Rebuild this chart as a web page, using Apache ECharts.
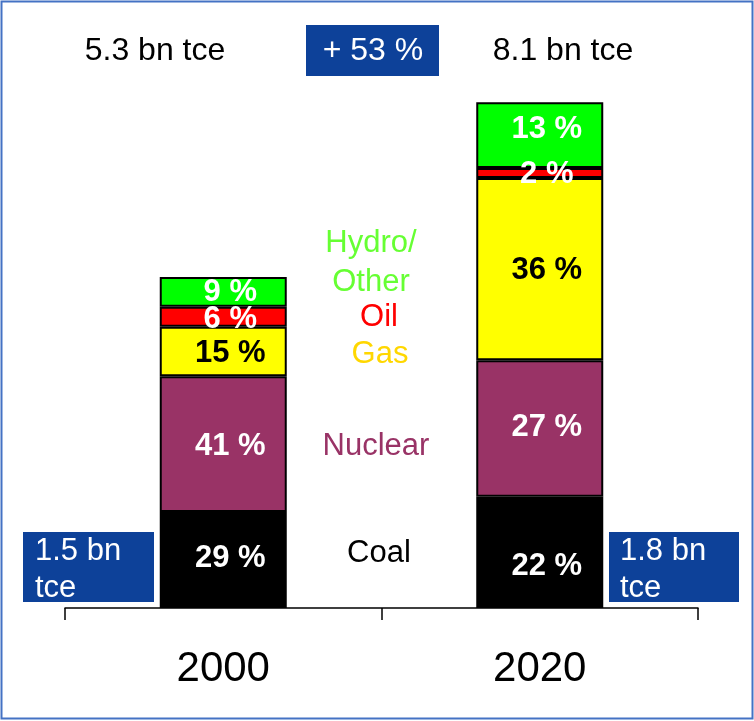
<!DOCTYPE html>
<html>
<head>
<meta charset="utf-8">
<script src="https://cdn.jsdelivr.net/npm/echarts@6/dist/echarts.min.js"></script>
<style>
html,body{margin:0;padding:0;background:#fff;}
#chart{width:754px;height:721px;}
</style>
</head>
<body>
<div id="chart"></div>
<script>
// ---- data ----
var years = ['2000', '2020'];
var totals = [5.3, 8.1];            // bn tce
var coalShare = [29, 22];           // %
var nuclearShare = [41, 27];
var gasShare = [15, 36];
var oilShare = [6, 2];
var hydroShare = [9, 13];
var growthLabel = '+ 53 %';
var coalAbs = ['1.5 bn\ntce', '1.8 bn\ntce'];

var FONT = '"Liberation Sans", Arial, sans-serif';

function toValues(shares) {
  return shares.map(function (s, i) { return totals[i] * s / 100; });
}

var seriesDefs = [
  { name: 'Coal', shares: coalShare, color: '#000000', text: '#ffffff', offsets: [[7, -2], [7, 14]] },
  { name: 'Nuclear', shares: nuclearShare, color: '#993366', text: '#ffffff', offsets: [[7, 2], [7, -1]] },
  { name: 'Gas', shares: gasShare, color: '#FFFF00', text: '#000000', offsets: [[7, 2], [7, 1]] },
  { name: 'Oil', shares: oilShare, color: '#FF0000', text: '#ffffff', offsets: [[7, 3], [7, 1]] },
  { name: 'Hydro/Other', shares: hydroShare, color: '#00FF00', text: '#ffffff', offsets: [[7, 1], [7, -6]] }
];

var series = seriesDefs.map(function (d) {
  var vals = toValues(d.shares);
  return {
    name: d.name,
    type: 'bar',
    stack: 'total',
    barWidth: 127,
    itemStyle: { color: d.color, borderColor: '#000', borderWidth: 2 },
    label: {
      show: true,
      position: 'inside',
      color: d.text,
      fontFamily: FONT,
      fontWeight: 'bold',
      fontSize: 31,
      formatter: function (p) { return d.shares[p.dataIndex] + ' %'; }
    },
    data: vals.map(function (v, i) {
      return { value: v, label: { offset: d.offsets[i] } };
    }),
    emphasis: { disabled: true },
    silent: true
  };
});

var chart = echarts.init(document.getElementById('chart'), null, { renderer: 'canvas' });

var txt = function (text, x, y, color, size, align, extra) {
  var s = {
    text: text, x: x, y: y, fill: color,
    font: (size || 31) + 'px ' + FONT,
    textAlign: align || 'center', textVerticalAlign: 'middle'
  };
  if (extra) for (var k in extra) s[k] = extra[k];
  return { type: 'text', z: 100, style: s, silent: true };
};

chart.setOption({
  animation: false,
  backgroundColor: '#ffffff',
  grid: { left: 65, right: 56, top: 46, bottom: 113 },
  xAxis: {
    type: 'category',
    data: years,
    boundaryGap: true,
    axisLine: { lineStyle: { color: '#000', width: 1.5 } },
    axisTick: { show: true, length: 12, lineStyle: { color: '#000', width: 1.5 } },
    axisLabel: { color: '#000', fontSize: 42, fontFamily: FONT, margin: 40 }
  },
  yAxis: {
    type: 'value', min: 0, max: 9, show: false,
    splitLine: { show: false }
  },
  series: series,
  graphic: [
    { type: 'rect', z: 100, silent: true, shape: { x: 1.5, y: 1.5, width: 751, height: 717 },
      style: { fill: 'none', stroke: '#4472C4', lineWidth: 2 } },
    txt(totals[0].toFixed(1) + ' bn tce', 155, 51, '#000', 32),
    txt(totals[1].toFixed(1) + ' bn tce', 563, 51, '#000', 32),
    { type: 'rect', z: 99, silent: true, shape: { x: 306, y: 25, width: 133, height: 51 },
      style: { fill: '#0D4199' } },
    txt(growthLabel, 373, 51, '#fff', 32),
    { type: 'rect', z: 99, silent: true, shape: { x: 23, y: 532, width: 131, height: 70 },
      style: { fill: '#0D4199' } },
    txt(coalAbs[0], 35, 570, '#fff', 31, 'left', { lineHeight: 37 }),
    { type: 'rect', z: 99, silent: true, shape: { x: 609, y: 532, width: 130, height: 70 },
      style: { fill: '#0D4199' } },
    txt(coalAbs[1], 620, 570, '#fff', 31, 'left', { lineHeight: 37 }),
    txt('Hydro/\nOther', 371, 263, '#66FF33', 31, 'center', { lineHeight: 39 }),
    txt('Oil', 379, 317, '#FF0000', 31),
    txt('Gas', 380, 354, '#FFD700', 31),
    txt('Nuclear', 376, 446, '#993366', 31),
    txt('Coal', 379, 553, '#000000', 31)
  ]
});
</script>
</body>
</html>
